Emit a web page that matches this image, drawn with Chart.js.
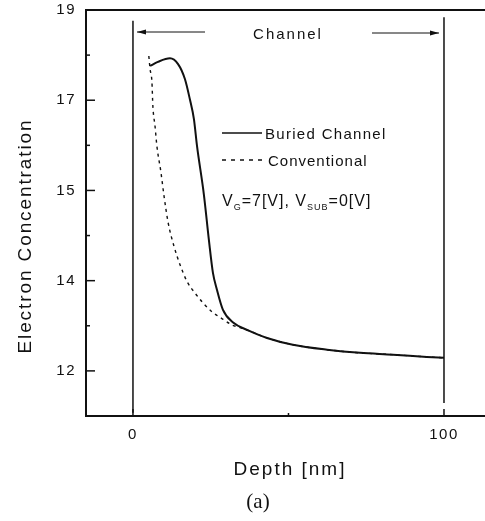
<!DOCTYPE html>
<html>
<head>
<meta charset="utf-8">
<script src="https://cdn.jsdelivr.net/npm/chart.js@4.4.0/dist/chart.umd.min.js"></script>
<style>
  html, body { margin: 0; padding: 0; background: #fff; overflow: hidden; }
  #wrap { width: 495px; height: 521px; }
</style>
</head>
<body>
<div id="wrap"><canvas id="myChart" width="495" height="521"></canvas></div>
<script>
// depth in nm; concentration in axis units (one unit per tick mark, 0 = bottom of frame)
const buriedDepth = [5.5, 8.0, 11.9, 14.5, 16.7, 18.3, 19.6, 20.6, 22.8, 24.4, 25.7, 27.0, 28.9, 32.2, 36.7, 43.1, 51.4, 62.4, 73.0, 83.6, 94.5, 100];
const buriedConc = [7.76, 7.85, 7.93, 7.80, 7.47, 7.02, 6.58, 5.98, 4.91, 3.91, 3.18, 2.80, 2.36, 2.07, 1.91, 1.73, 1.58, 1.47, 1.40, 1.36, 1.31, 1.29];

const convDepth = [5.1, 5.5, 6.1, 6.4, 7.1, 7.7, 9.0, 10.0, 11.3, 13.2, 15.1, 17.4, 19.9, 22.5, 25.4, 28.6, 31.8, 34.4, 38.0, 43.1, 51.4, 62.4, 73.0, 83.6, 94.5, 100];
const convConc = [7.98, 7.69, 7.40, 6.87, 6.42, 5.98, 5.40, 4.87, 4.29, 3.76, 3.36, 2.98, 2.73, 2.51, 2.31, 2.16, 2.02, 1.96, 1.87, 1.73, 1.58, 1.47, 1.40, 1.36, 1.31, 1.29];

// channel boundaries (vertical lines) and how far up/down they run
const edgeDepth = [0, 100];
const edgeTop = [8.76, 8.84];
const edgeBottom = [0.07, 0.29];

const yTickLabels = ['', '12', '', '14', '', '15', '', '17', '', '19'];
const xTickValues = [0, 50, 100];
const xTickLabels = ['0', '', '100'];

const INK = '#111';

function toPoints(xs, ys) {
  return xs.map((x, i) => ({ x: x, y: ys[i] }));
}

function line(ctx, x1, y1, x2, y2) {
  ctx.beginPath();
  ctx.moveTo(x1, y1);
  ctx.lineTo(x2, y2);
  ctx.stroke();
}

function arrow(ctx, xTail, xHead, y) {
  ctx.lineWidth = 1;
  line(ctx, xTail, y, xHead, y);
  const dir = xHead > xTail ? 1 : -1;
  ctx.beginPath();
  ctx.moveTo(xHead, y);
  ctx.lineTo(xHead - dir * 9, y - 2.5);
  ctx.lineTo(xHead - dir * 9, y + 2.5);
  ctx.closePath();
  ctx.fill();
}

function text(ctx, str, x, y, font, align, spacing) {
  ctx.font = font;
  ctx.textAlign = align;
  ctx.textBaseline = 'alphabetic';
  ctx.letterSpacing = spacing + 'px';
  ctx.fillText(str, x, y);
}

const decor = {
  id: 'decor',
  beforeDraw(chart) {
    chart.ctx.letterSpacing = '1.5px';
  },
  afterDraw(chart) {
    const ctx = chart.ctx;
    const a = chart.chartArea;
    const x = chart.scales.x;
    const y = chart.scales.y;
    ctx.save();
    ctx.strokeStyle = INK;
    ctx.fillStyle = INK;

    // top of frame
    ctx.lineWidth = 2;
    line(ctx, a.left - 1, a.top, a.right, a.top);

    // inward tick marks
    ctx.lineWidth = 1.5;
    for (let v = 0; v < yTickLabels.length; v++) {
      const py = y.getPixelForValue(v);
      line(ctx, a.left, py, a.left + (yTickLabels[v] ? 9 : 4), py);
    }
    xTickValues.forEach((v, i) => {
      const px = x.getPixelForValue(v);
      line(ctx, px, a.bottom, px, a.bottom - (xTickLabels[i] ? 7 : 3));
    });

    // channel arrows
    arrow(ctx, 205, 137, 32);
    arrow(ctx, 372, 439, 33);
    text(ctx, 'Channel', 288, 39, '15px "Liberation Sans", Arial, sans-serif', 'center', 2);

    // legend
    ctx.lineWidth = 1.6;
    line(ctx, 222, 133, 262, 133);
    ctx.setLineDash([4, 5]);
    ctx.lineWidth = 1.3;
    line(ctx, 222, 160, 265, 160);
    ctx.setLineDash([]);
    text(ctx, 'Buried Channel', 265, 138.5, '15px "Liberation Sans", Arial, sans-serif', 'left', 1.3);
    text(ctx, 'Conventional', 268, 165.5, '15px "Liberation Sans", Arial, sans-serif', 'left', 1);

    // bias condition with subscripts
    const big = '16px "Liberation Sans", Arial, sans-serif';
    const small = '9px "Liberation Sans", Arial, sans-serif';
    const parts = [
      ['V', big, 0], ['G', small, 4], ['=7[V], V', big, 0], ['SUB', small, 4], ['=0[V]', big, 0]
    ];
    let cx = 222;
    parts.forEach(p => {
      text(ctx, p[0], cx, 206 + p[2], p[1], 'left', 1);
      cx += ctx.measureText(p[0]).width;
    });

    // axis titles
    text(ctx, 'Depth [nm]', 290, 475, '19px "Liberation Sans", Arial, sans-serif', 'center', 2);
    text(ctx, '(a)', 258, 508, '21px "Liberation Serif", "Times New Roman", serif', 'center', 0);
    ctx.save();
    ctx.translate(31, 236);
    ctx.rotate(-Math.PI / 2);
    text(ctx, 'Electron Concentration', 0, 0, '19px "Liberation Sans", Arial, sans-serif', 'center', 1.9);
    ctx.restore();

    ctx.restore();
  }
};

const datasets = [
  {
    label: 'Buried Channel',
    data: toPoints(buriedDepth, buriedConc),
    borderColor: INK,
    borderWidth: 2,
    pointRadius: 0,
    cubicInterpolationMode: 'monotone'
  },
  {
    label: 'Conventional',
    data: toPoints(convDepth, convConc),
    borderColor: INK,
    borderWidth: 1.4,
    borderDash: [3, 4],
    pointRadius: 0,
    cubicInterpolationMode: 'monotone'
  }
];
edgeDepth.forEach((d, i) => {
  datasets.push({
    label: 'edge' + i,
    data: [{ x: d, y: edgeTop[i] }, { x: d, y: edgeBottom[i] }],
    borderColor: INK,
    borderWidth: 1.5,
    pointRadius: 0,
    tension: 0
  });
});

const config = {
  type: 'line',
  data: { datasets: datasets },
  options: {
    responsive: false,
    animation: false,
    layout: { padding: { top: 10, left: 0, right: 0, bottom: 0 } },
    plugins: { legend: { display: false }, tooltip: { enabled: false } },
    scales: {
      x: {
        type: 'linear',
        min: -15.1,
        max: 116.4,
        afterBuildTicks: s => { s.ticks = xTickValues.map(v => ({ value: v })); },
        afterFit: s => { s.height = 105; s.paddingLeft = 0; s.paddingRight = 0; },
        ticks: {
          autoSkip: false,
          maxRotation: 0,
          padding: 10,
          color: INK,
          font: { family: '"Liberation Sans", Arial, sans-serif', size: 15 },
          callback: v => xTickLabels[xTickValues.indexOf(v)]
        },
        grid: { display: false, drawTicks: false },
        border: { display: true, color: INK, width: 2 }
      },
      y: {
        type: 'linear',
        min: 0,
        max: 9,
        afterFit: s => { s.width = 86; s.paddingTop = 0; s.paddingBottom = 0; },
        ticks: {
          stepSize: 1,
          autoSkip: false,
          padding: 10,
          color: INK,
          font: { family: '"Liberation Sans", Arial, sans-serif', size: 15 },
          callback: v => yTickLabels[v] || ''
        },
        grid: { display: false, drawTicks: false },
        border: { display: true, color: INK, width: 2 }
      }
    }
  },
  plugins: [decor]
};

new Chart(document.getElementById('myChart').getContext('2d'), config);
</script>
</body>
</html>
